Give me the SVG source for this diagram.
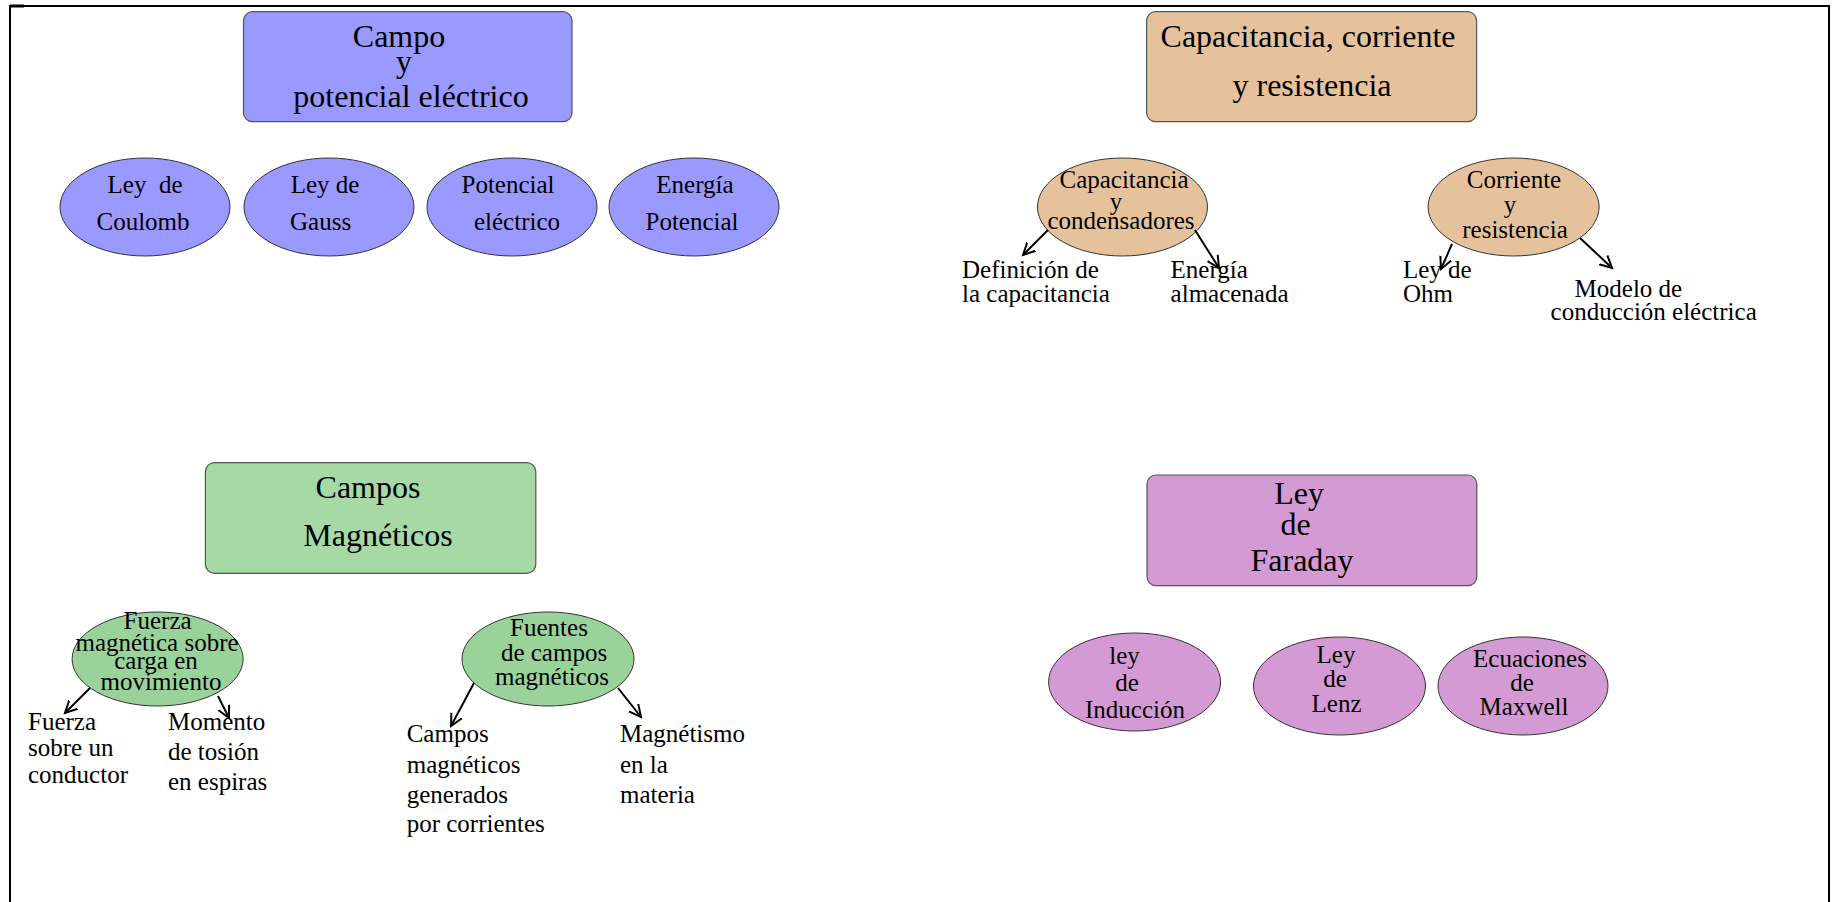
<svg xmlns="http://www.w3.org/2000/svg" width="1834" height="902" viewBox="0 0 1834 902">
<defs>
<marker id="arr" markerUnits="userSpaceOnUse" markerWidth="16" markerHeight="16" refX="12" refY="6" orient="auto" viewBox="0 0 16 12">
<path d="M0,0 L12,6 L0,12" fill="none" stroke="#000" stroke-width="2"/>
</marker>
<style>
text{font-family:"Liberation Serif","Times New Roman",serif;fill:#000}
.t{font-size:32px;text-anchor:middle}
.n{font-size:25px;text-anchor:middle}
.l{font-size:25px}
.box{stroke:#555;stroke-width:1.2}
.ell{stroke:#333;stroke-width:1}
.blue{fill:#9999ff}
.tan{fill:#e6c29c}
.grn{fill:#a6d9a6}
.grn2{fill:#99d399}
.pur{fill:#d49ad4}
.conn line{stroke:#000;stroke-width:2;marker-end:url(#arr)}
</style>
</defs>
<rect width="1834" height="902" fill="#fff"/>
<path d="M10,902 V6 H1829 V902" fill="none" stroke="#000" stroke-width="2"/>
<path d="M10,6 H24" stroke="#000" stroke-width="3"/>

<g id="box-campo">
<rect class="box blue" x="243.5" y="11.7" width="328.5" height="110" rx="9"/>
<text class="t" x="399" y="47">Campo</text>
<text class="t" x="404" y="72">y</text>
<text class="t" x="411" y="107">potencial eléctrico</text>
</g>
<g id="n-coulomb">
<ellipse class="ell blue" cx="145" cy="207" rx="85" ry="49"/>
<text class="n" x="145" y="193" xml:space="preserve">Ley  de</text>
<text class="n" x="143" y="230">Coulomb</text>
</g>
<g id="n-gauss">
<ellipse class="ell blue" cx="329" cy="207" rx="85" ry="49"/>
<text class="n" x="325" y="193">Ley de</text>
<text class="l" x="290" y="230">Gauss</text>
</g>
<g id="n-potencial">
<ellipse class="ell blue" cx="512" cy="207" rx="85" ry="49"/>
<text class="n" x="508" y="193">Potencial</text>
<text class="n" x="517" y="230">eléctrico</text>
</g>
<g id="n-energia">
<ellipse class="ell blue" cx="694" cy="207" rx="85" ry="49"/>
<text class="n" x="695" y="193">Energía</text>
<text class="n" x="692" y="230">Potencial</text>
</g>

<g id="box-capacitancia">
<rect class="box tan" x="1146.6" y="11.7" width="330" height="110" rx="9"/>
<text class="t" x="1308" y="47">Capacitancia, corriente</text>
<text class="t" x="1312" y="96">y resistencia</text>
</g>
<g id="n-capcond">
<ellipse class="ell tan" cx="1122.5" cy="207" rx="85" ry="49"/>
<text class="n" x="1124" y="188">Capacitancia</text>
<text class="n" x="1116" y="210">y</text>
<text class="n" x="1121" y="229">condensadores</text>
</g>
<g id="n-corres">
<ellipse class="ell tan" cx="1513.6" cy="207" rx="85.5" ry="49"/>
<text class="n" x="1514" y="188">Corriente</text>
<text class="n" x="1510" y="213">y</text>
<text class="n" x="1515" y="238">resistencia</text>
</g>
<g id="n-definicion">
<text class="l" x="962" y="278">Definición de</text>
<text class="l" x="962" y="302">la capacitancia</text>
</g>
<g id="n-energia-alm">
<text class="l" x="1170.6" y="278">Energía</text>
<text class="l" x="1170.6" y="302">almacenada</text>
</g>
<g id="n-ohm">
<text class="l" x="1403" y="278">Ley de</text>
<text class="l" x="1403" y="302">Ohm</text>
</g>
<g id="n-modelo">
<text class="l" x="1574.6" y="297">Modelo de</text>
<text class="l" x="1550.6" y="320">conducción eléctrica</text>
</g>

<g id="box-magneticos">
<rect class="box grn" x="205.4" y="462.7" width="330.4" height="110.6" rx="9"/>
<text class="t" x="368" y="498">Campos</text>
<text class="t" x="378" y="546">Magnéticos</text>
</g>
<g id="n-fuerza">
<ellipse class="ell grn2" cx="157.6" cy="659" rx="85.5" ry="47"/>
<text class="n" x="157.6" y="629">Fuerza</text>
<text class="n" x="157" y="651">magnética sobre</text>
<text class="n" x="156" y="669">carga en</text>
<text class="n" x="161" y="690">movimiento</text>
</g>
<g id="n-fuentes">
<ellipse class="ell grn2" cx="548" cy="659" rx="86" ry="47"/>
<text class="n" x="549" y="636">Fuentes</text>
<text class="n" x="554" y="661">de campos</text>
<text class="n" x="552" y="685">magnéticos</text>
</g>
<g id="n-conductor">
<text class="l" x="28" y="730">Fuerza</text>
<text class="l" x="28" y="756">sobre un</text>
<text class="l" x="28" y="783">conductor</text>
</g>
<g id="n-momento">
<text class="l" x="168" y="730">Momento</text>
<text class="l" x="168" y="760">de tosión</text>
<text class="l" x="168" y="790">en espiras</text>
</g>
<g id="n-generados">
<text class="l" x="406.7" y="742">Campos</text>
<text class="l" x="406.7" y="773">magnéticos</text>
<text class="l" x="406.7" y="803">generados</text>
<text class="l" x="406.7" y="832">por corrientes</text>
</g>
<g id="n-materia">
<text class="l" x="620" y="742">Magnétismo</text>
<text class="l" x="620" y="773">en la</text>
<text class="l" x="620" y="803">materia</text>
</g>

<g id="box-faraday">
<rect class="box pur" x="1147" y="475" width="329.8" height="110.7" rx="9"/>
<text class="t" x="1299" y="504">Ley</text>
<text class="t" x="1295.5" y="535">de</text>
<text class="t" x="1302" y="571">Faraday</text>
</g>
<g id="n-induccion">
<ellipse class="ell pur" cx="1134.6" cy="682" rx="86" ry="49"/>
<text class="n" x="1124.6" y="664">ley</text>
<text class="n" x="1127" y="691">de</text>
<text class="n" x="1135" y="718">Inducción</text>
</g>
<g id="n-lenz">
<ellipse class="ell pur" cx="1339.5" cy="686" rx="86" ry="49"/>
<text class="n" x="1336" y="663">Ley</text>
<text class="n" x="1335" y="687">de</text>
<text class="n" x="1336.5" y="712">Lenz</text>
</g>
<g id="n-maxwell">
<ellipse class="ell pur" cx="1523" cy="686" rx="85" ry="49"/>
<text class="n" x="1530" y="667">Ecuaciones</text>
<text class="n" x="1522" y="691">de</text>
<text class="n" x="1524" y="715">Maxwell</text>
</g>

<g id="connectors" class="conn">
<line x1="1048" y1="230" x2="1023" y2="255"/>
<line x1="1195" y1="230" x2="1219" y2="268"/>
<line x1="1452" y1="244" x2="1441" y2="269"/>
<line x1="1580" y1="238" x2="1612" y2="268"/>
<line x1="90" y1="688" x2="65" y2="713"/>
<line x1="218" y1="696" x2="229" y2="718"/>
<line x1="474" y1="683" x2="451" y2="726"/>
<line x1="618" y1="688" x2="641" y2="717"/>
</g>
</svg>
